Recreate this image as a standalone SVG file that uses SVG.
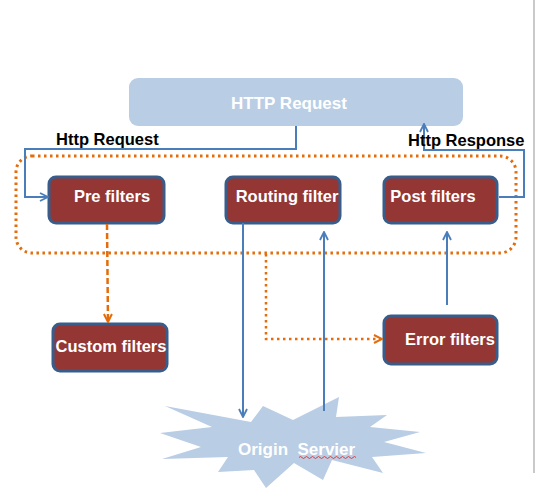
<svg xmlns="http://www.w3.org/2000/svg" width="535" height="502" viewBox="0 0 535 502">
<defs>
<style>
.box{fill:#943634;stroke:#385d8a;stroke-width:3}
.bt{font-family:"Liberation Sans",Arial,sans-serif;font-weight:bold;font-size:16.5px;fill:#ffffff}
.lbl{font-family:"Liberation Sans",Arial,sans-serif;font-weight:bold;font-size:16.5px;fill:#000000}
.blue{fill:none;stroke:#4a7ebb;stroke-width:2}
.org{fill:none;stroke:#e46c0a;stroke-width:2.5}
</style>
<marker id="ab" viewBox="0 0 10 10" refX="9" refY="5" markerWidth="10" markerHeight="10" markerUnits="userSpaceOnUse" orient="auto"><path d="M1,1 L9,5 L1,9" fill="none" stroke="#4a7ebb" stroke-width="1.8"/></marker>
<marker id="ao" viewBox="0 0 10 10" refX="9" refY="5" markerWidth="10" markerHeight="10" markerUnits="userSpaceOnUse" orient="auto"><path d="M1,1 L9,5 L1,9" fill="none" stroke="#e46c0a" stroke-width="2"/></marker>
</defs>
<rect width="535" height="502" fill="#ffffff"/>
<line x1="534" y1="0" x2="534" y2="473" stroke="#a6a6a6" stroke-width="1.2"/>

<g id="http-request">
<rect x="129" y="78" width="334" height="48" rx="9" fill="#b9cde4"/>
<text x="289" y="109" text-anchor="middle" class="bt" style="font-size:17px">HTTP Request</text>
</g>

<g id="origin-server">
<polygon fill="#b9cde4" points="165,406 251,422 263,406 293,420 339,397 336,417 387,415 370,427 420,432 384,442 426,453 372,457 383,473 332,460 323,480 294,463 266,488 254,470 218,472 228,457 162,459 201,447 160,433 212,427"/>
<text x="238" y="455" class="bt" style="font-size:17px" xml:space="preserve">Origin  Servier</text>
<path d="M299,457.5 q1.5,-2 3,0 t3,0 t3,0 t3,0 t3,0 t3,0 t3,0 t3,0 t3,0 t3,0 t3,0 t3,0 t3,0 t3,0 t3,0 t3,0 t3,0 t3,0 t3,0" fill="none" stroke="#e02020" stroke-width="0.8"/>
</g>

<g id="filter-group">
<rect x="16" y="156" width="500" height="97" rx="16" fill="none" stroke="#e46c0a" stroke-width="3" stroke-dasharray="2.5 3.5"/>
</g>

<g id="pre-filters">
<rect class="box" x="49" y="177" width="115" height="46" rx="7"/>
<text x="112" y="202" text-anchor="middle" class="bt">Pre filters</text>
</g>
<g id="routing-filter">
<rect class="box" x="226" y="177" width="114" height="46" rx="7"/>
<text x="287" y="202" text-anchor="middle" class="bt">Routing filter</text>
</g>
<g id="post-filters">
<rect class="box" x="384" y="177" width="113" height="46" rx="7"/>
<text x="433" y="202" text-anchor="middle" class="bt">Post filters</text>
</g>
<g id="custom-filters">
<rect class="box" x="53" y="324" width="114" height="47" rx="7"/>
<text x="111" y="352" text-anchor="middle" class="bt">Custom filters</text>
</g>
<g id="error-filters">
<rect class="box" x="384" y="316" width="113" height="48" rx="7"/>
<text x="450" y="345" text-anchor="middle" class="bt">Error filters</text>
</g>

<g id="connectors">
<polyline class="blue" points="296,126 296,149 25,149 25,197 48,197" marker-end="url(#ab)"/>
<polyline class="blue" points="499,197 524,197 524,150 424,150 424,124" marker-end="url(#ab)"/>
<line class="blue" x1="243" y1="223" x2="243" y2="417" marker-end="url(#ab)"/>
<line class="blue" x1="324" y1="411" x2="324" y2="232" marker-end="url(#ab)"/>
<line class="blue" x1="447" y1="305" x2="447" y2="232" marker-end="url(#ab)"/>
<polyline class="org" points="107,224 108,322" stroke-dasharray="6 3" stroke-width="2" marker-end="url(#ao)"/>
<polyline class="org" points="266,254 266,339 382,339" stroke-dasharray="2.5 3.5" marker-end="url(#ao)"/>
<text x="56" y="145" class="lbl">Http Request</text>
<text x="408" y="146" class="lbl">Http Response</text>
</g>
</svg>
